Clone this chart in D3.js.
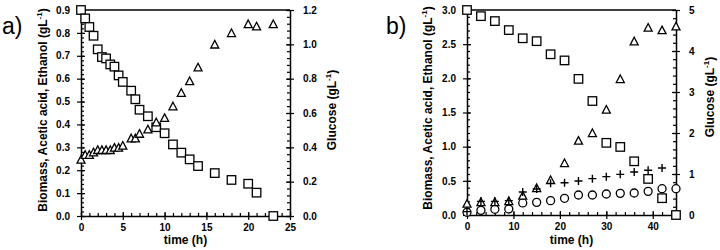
<!DOCTYPE html>
<html>
<head>
<meta charset="utf-8">
<script src="https://cdn.jsdelivr.net/npm/d3@7"></script>
<style>
  body { margin: 0; background: #fff; }
  text { font-family: "Liberation Sans", Arial, sans-serif; }
  .tick text { font-weight: bold; font-size: 10px; }
</style>
</head>
<body>
<div id="vis"></div>
<script>
// panel a: time (h)
var timeA = [0, 0.5, 1, 1.5, 2, 2.5, 3, 3.5, 4, 4.5, 5, 6, 6.5, 7, 8, 9, 10, 11, 12, 13, 14, 16, 18, 20, 21, 23];
var glucoseA = [1.2, 1.151, 1.101, 1.05, 0.971, 0.926, 0.918, 0.883, 0.87, 0.819, 0.781, 0.73, 0.68, 0.619, 0.581, 0.517, 0.482, 0.417, 0.369, 0.33, 0.291, 0.25, 0.21, 0.188, 0.136, 0.0];
var biomassA = [0.245, 0.266, 0.266, 0.277, 0.287, 0.287, 0.287, 0.287, 0.297, 0.297, 0.306, 0.338, 0.338, 0.358, 0.377, 0.408, 0.427, 0.478, 0.537, 0.588, 0.648, 0.748, 0.798, 0.837, 0.827, 0.837];

// panel b
var timeB = [0, 3, 6, 9, 12, 15, 18, 21, 24, 27, 30, 33, 36, 39, 42, 45];
var glucoseB = [5.0, 4.85, 4.73, 4.51, 4.31, 4.24, 3.92, 3.77, 3.32, 2.78, 1.76, 1.66, 1.31, 0.88, 0.41, 0.0];
var biomassB = [0.161, 0.185, 0.185, 0.2, 0.278, 0.39, 0.507, 0.756, 1.083, 1.195, 1.537, 1.985, 2.537, 2.737, 2.70, 2.756];
var timeBplus = [0, 3, 6, 9, 12, 15, 18, 21, 24, 27, 30, 33, 36, 39, 42];
var acetateB = [0.05, 0.2, 0.2, 0.21, 0.337, 0.38, 0.463, 0.473, 0.498, 0.532, 0.561, 0.595, 0.629, 0.654, 0.688];
var ethanolB = [0.04, 0.068, 0.083, 0.088, 0.176, 0.185, 0.21, 0.244, 0.293, 0.293, 0.307, 0.317, 0.322, 0.346, 0.385, 0.385];

// ticks
var xTicksA = [0, 5, 10, 15, 20, 25], xMinorA = d3.range(0, 25.01, 1);
var yTicksA = d3.range(0, 0.901, 0.1), yMinorA = d3.range(0, 0.901, 0.02);
var y2TicksA = d3.range(0, 1.201, 0.2), y2MinorA = d3.range(0, 1.201, 0.04);
var xTicksB = [0, 10, 20, 30, 40], xMinorB = d3.range(0, 45.01, 2);
var yTicksB = d3.range(0, 3.001, 0.5), yMinorB = d3.range(0, 3.001, 0.1);
var y2TicksB = [0, 1, 2, 3, 4, 5], y2MinorB = d3.range(0, 5.001, 0.2);

var svg = d3.select("#vis").append("svg")
  .attr("width", 720).attr("height", 250);

function drawPanel(p) {
  var g = svg.append("g");
  var x = d3.scaleLinear().domain(p.xDomain).range([p.left, p.right]);
  var y = d3.scaleLinear().domain(p.yDomain).range([p.bottom, p.top]);
  var y2 = d3.scaleLinear().domain(p.y2Domain).range([p.bottom, p.top]);

  // top frame line
  g.append("line")
    .attr("x1", p.left).attr("x2", p.right)
    .attr("y1", p.top).attr("y2", p.top)
    .attr("stroke", "#000").attr("stroke-width", 1.5);

  function axisPair(axisFn, scale, majors, minors, fmt, tr, pad) {
    // outward major ticks with labels
    g.append("g").attr("transform", tr)
      .call(axisFn(scale).tickValues(majors).tickFormat(fmt).tickSize(4).tickSizeOuter(0).tickPadding(pad));
    // inward major + minor ticks
    g.append("g").attr("transform", tr)
      .call(axisFn(scale).tickValues(majors).tickFormat("").tickSize(-4).tickSizeOuter(0))
      .select(".domain").remove();
    g.append("g").attr("transform", tr)
      .call(axisFn(scale).tickValues(minors).tickFormat("").tickSize(-3).tickSizeOuter(0))
      .select(".domain").remove();
  }
  axisPair(d3.axisBottom, x, p.xTicks, p.xMinor, d3.format("d"), "translate(0," + p.bottom + ")", 4);
  axisPair(d3.axisLeft, y, p.yTicks, p.yMinor, d3.format(".1f"), "translate(" + p.left + ",0)", 7);
  axisPair(d3.axisRight, y2, p.y2Ticks, p.y2Minor, p.y2Format, "translate(" + p.right + ",0)", 9);

  g.selectAll(".domain").attr("stroke-width", 1.5);
  g.selectAll(".tick line").attr("stroke-width", 1.2);

  // axis titles
  var lt = g.append("text")
    .attr("transform", "translate(" + p.ylabX + "," + p.ylabY + ") rotate(-90)")
    .attr("text-anchor", "middle").attr("font-weight", "bold").attr("font-size", 12);
  lt.append("tspan").text("Biomass, Acetic acid, Ethanol (gL");
  lt.append("tspan").attr("font-size", 8).attr("dy", -5).text("-1");
  lt.append("tspan").attr("dy", 5).text(")");

  var rt = g.append("text")
    .attr("transform", "translate(" + p.y2labX + "," + p.y2labY + ") rotate(-90)")
    .attr("text-anchor", "middle").attr("font-weight", "bold").attr("font-size", 12);
  rt.append("tspan").text("Glucose (gL");
  rt.append("tspan").attr("font-size", 8).attr("dy", -5).text("-1");
  rt.append("tspan").attr("dy", 5).text(")");

  g.append("text")
    .attr("x", (p.left + p.right) / 2).attr("y", 244)
    .attr("text-anchor", "middle").attr("font-weight", "bold").attr("font-size", 12)
    .text("time (h)");

  g.append("text")
    .attr("x", p.tagX).attr("y", 34)
    .attr("font-size", 23)
    .text(p.tag);

  return {g: g, x: x, y: y, y2: y2};
}

function pts(t, v) { return t.map(function(d, i) { return [d, v[i]]; }); }

function squares(P, data, scale, s) {
  P.g.selectAll(null).data(data).enter().append("rect")
    .attr("x", function(d) { return P.x(d[0]) - s / 2; })
    .attr("y", function(d) { return scale(d[1]) - s / 2; })
    .attr("width", s).attr("height", s)
    .attr("fill", "#fff").attr("stroke", "#000").attr("stroke-width", 1.3);
}
function triangles(P, data, scale, s) {
  P.g.selectAll(null).data(data).enter().append("path")
    .attr("transform", function(d) { return "translate(" + P.x(d[0]) + "," + scale(d[1]) + ")"; })
    .attr("d", "M0," + (-s * 0.55) + "L" + (s / 2) + "," + (s * 0.4) + "L" + (-s / 2) + "," + (s * 0.4) + "Z")
    .attr("fill", "#fff").attr("stroke", "#000").attr("stroke-width", 1.3);
}
function circles(P, data, scale, r) {
  P.g.selectAll(null).data(data).enter().append("circle")
    .attr("cx", function(d) { return P.x(d[0]); })
    .attr("cy", function(d) { return scale(d[1]); })
    .attr("r", r)
    .attr("fill", "#fff").attr("stroke", "#000").attr("stroke-width", 1.3);
}
function pluses(P, data, scale, s) {
  P.g.selectAll(null).data(data).enter().append("path")
    .attr("transform", function(d) { return "translate(" + P.x(d[0]) + "," + scale(d[1]) + ")"; })
    .attr("d", "M" + (-s / 2) + ",0H" + (s / 2) + "M0," + (-s / 2) + "V" + (s / 2))
    .attr("fill", "none").attr("stroke", "#000").attr("stroke-width", 1.4);
}

var A = drawPanel({
  left: 81, right: 290, top: 10, bottom: 216,
  xDomain: [0, 25], yDomain: [0, 0.9], y2Domain: [0, 1.2],
  xTicks: xTicksA, xMinor: xMinorA, yTicks: yTicksA, yMinor: yMinorA,
  y2Ticks: y2TicksA, y2Minor: y2MinorA, y2Format: d3.format(".1f"),
  ylabX: 47, ylabY: 110, y2labX: 336, y2labY: 110, tag: "a)", tagX: 2
});
squares(A, pts(timeA, glucoseA), A.y2, 8.5);
triangles(A, pts(timeA, biomassA), A.y, 8);

var B = drawPanel({
  left: 467, right: 676, top: 10, bottom: 215,
  xDomain: [0, 45], yDomain: [0, 3], y2Domain: [0, 5],
  xTicks: xTicksB, xMinor: xMinorB, yTicks: yTicksB, yMinor: yMinorB,
  y2Ticks: y2TicksB, y2Minor: y2MinorB, y2Format: d3.format("d"),
  ylabX: 432, ylabY: 108, y2labX: 714, y2labY: 97, tag: "b)", tagX: 386
});
circles(B, pts(timeB, ethanolB), B.y, 4);
triangles(B, pts(timeB, biomassB), B.y, 8);
pluses(B, pts(timeBplus, acetateB), B.y, 8);
squares(B, pts(timeB, glucoseB), B.y2, 8.5);
</script>
</body>
</html>
